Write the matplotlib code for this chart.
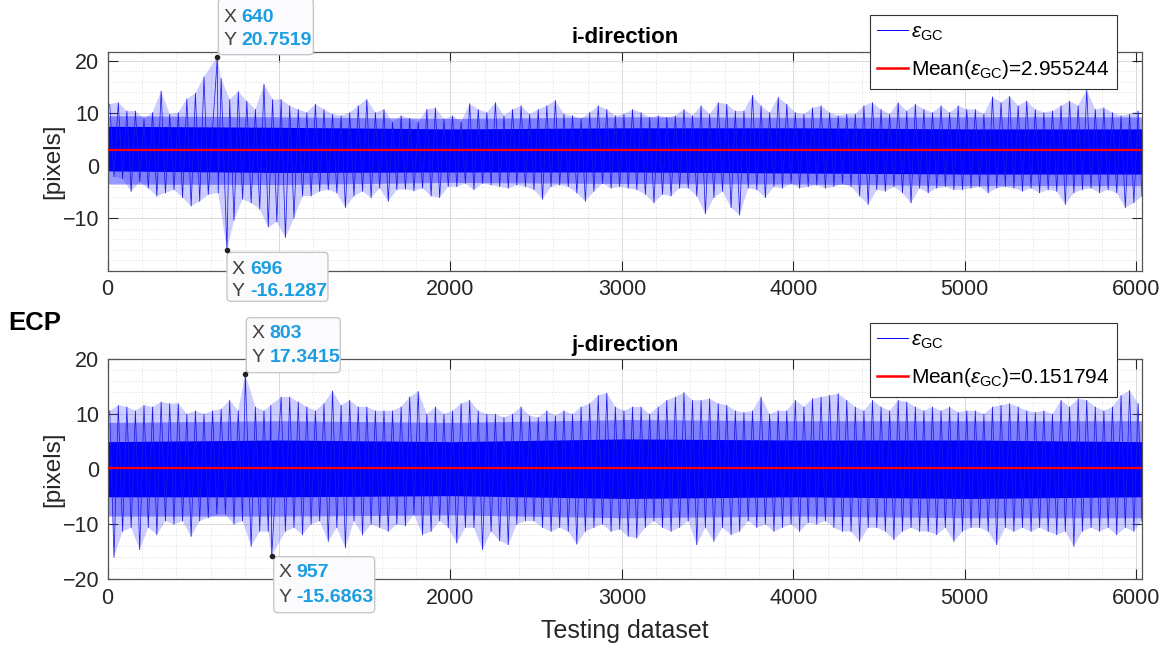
import numpy as np
import matplotlib
matplotlib.use('Agg')
import matplotlib.pyplot as plt
from matplotlib.patches import FancyBboxPatch
from matplotlib.transforms import ScaledTranslation
from matplotlib.lines import Line2D

plt.rcParams['font.family'] = ['Liberation Sans', 'DejaVu Sans']
plt.rcParams['mathtext.fontset'] = 'custom'
plt.rcParams['mathtext.rm'] = 'Liberation Sans'
plt.rcParams['mathtext.it'] = 'Liberation Sans:italic'

n_samples = 6035
bin_size = 50

# per-bin extremes of the error signal (50 samples per bin), i-direction
i_hi = [11.7, 12.0, 10.4, 10.4, 8.9, 10.1, 14.2, 9.8, 10.1, 12.7,
        13.8, 16.9, 20.7519, 16.6, 12.6, 14.1, 12.3, 10.7, 15.5, 12.6,
        12.6, 11.4, 10.7, 10.1, 11.7, 10.7, 9.8, 9.5, 10.1, 11.4,
        12.6, 10.1, 10.7, 8.3, 9.5, 9.0, 8.3, 10.7, 11.0, 8.9,
        9.5, 8.3, 11.8, 10.7, 10.1, 12.0, 9.5, 10.7, 11.4, 9.8,
        10.7, 11.4, 12.4, 9.8, 9.5, 8.9, 10.1, 11.4, 10.7, 9.5,
        9.8, 10.7, 10.1, 9.2, 9.5, 9.2, 9.5, 10.7, 9.5, 11.4,
        9.8, 12.0, 11.7, 10.4, 10.4, 13.4, 11.4, 10.1, 13.0, 11.7,
        10.1, 9.8, 11.0, 11.4, 10.1, 9.5, 9.8, 9.8, 11.4, 12.0,
        10.7, 9.8, 12.0, 10.4, 11.7, 10.7, 10.1, 11.4, 10.1, 11.4,
        10.7, 10.7, 9.8, 13.1, 12.0, 13.2, 11.4, 12.3, 10.7, 10.1,
        10.4, 11.4, 12.3, 11.4, 14.4, 10.7, 11.0, 10.1, 9.5, 9.8,
        10.4]
i_lo = [-2.1, -2.5, -4.9, -3.1, -4.3, -5.8, -5.2, -4.6, -6.1, -7.7,
        -6.8, -5.5, -5.2, -16.1287, -10.4, -6.4, -7.1, -8.3, -11.7, -10.7,
        -13.7, -10.0, -5.8, -5.8, -4.9, -4.6, -5.2, -8.0, -5.8, -4.9,
        -6.1, -4.3, -6.8, -4.6, -4.5, -4.8, -4.3, -5.8, -6.1, -4.0,
        -4.0, -3.4, -4.6, -3.4, -3.7, -4.0, -4.3, -3.7, -4.0, -4.6,
        -6.4, -4.0, -3.7, -4.0, -5.2, -6.8, -4.9, -3.4, -4.3, -4.0,
        -4.3, -4.6, -5.5, -7.1, -5.5, -5.8, -4.3, -4.3, -5.8, -9.2,
        -6.1, -4.9, -8.0, -9.4, -4.3, -4.6, -6.1, -4.0, -4.3, -3.4,
        -4.3, -4.0, -3.7, -4.3, -4.0, -3.4, -4.0, -5.8, -7.4, -4.6,
        -4.9, -4.0, -5.2, -7.1, -4.3, -5.2, -4.3, -4.0, -4.6, -4.6,
        -4.3, -4.0, -5.2, -4.3, -4.0, -4.3, -4.9, -4.3, -5.2, -4.6,
        -4.9, -7.4, -5.2, -4.6, -4.3, -5.2, -4.6, -5.2, -8.0, -7.1,
        -5.8]
# solid part and medium-density part of the band, every 1000 samples
i_core_hi = [7.5, 7.3, 7.0, 7.2, 7.2, 7.0, 7.0]
i_core_lo = [-1.0, -1.3, -1.2, -1.2, -1.4, -1.6, -1.6]
i_band_hi = [9.5, 9.3, 9.0, 9.3, 9.2, 9.3, 9.3]
i_band_lo = [-3.5, -3.6, -3.2, -3.4, -3.5, -3.8, -3.8]
i_mean = 2.955244
i_tips = [(640, 20.7519), (696, -16.1287)]

# j-direction
j_hi = [10.6, 11.6, 11.3, 10.6, 11.6, 11.3, 12.2, 11.9, 11.9, 10.0,
        10.6, 10.0, 10.6, 10.9, 12.5, 10.6, 17.3415, 11.3, 10.6, 11.6,
        13.1, 13.1, 12.2, 11.3, 10.6, 11.9, 14.2, 11.6, 12.5, 11.3,
        11.3, 10.6, 10.6, 10.6, 11.3, 13.1, 14.1, 10.0, 11.3, 10.0,
        10.6, 11.9, 12.5, 10.6, 10.0, 10.0, 9.4, 10.0, 11.3, 9.7,
        9.4, 10.6, 9.7, 10.6, 10.0, 11.3, 11.9, 13.4, 13.8, 11.3,
        10.6, 11.3, 11.3, 10.0, 11.3, 12.5, 13.1, 13.9, 12.5, 12.5,
        12.8, 11.9, 11.6, 10.6, 10.3, 10.6, 13.1, 10.0, 10.6, 10.6,
        12.5, 11.3, 12.8, 13.1, 13.4, 13.7, 12.5, 11.3, 10.6, 12.5,
        11.3, 10.6, 12.5, 12.2, 11.3, 10.6, 11.3, 10.6, 11.3, 10.3,
        10.6, 10.6, 10.0, 11.3, 11.6, 11.9, 11.3, 10.6, 10.3, 10.6,
        10.0, 12.5, 11.3, 12.8, 12.5, 11.3, 10.6, 11.3, 13.4, 14.3,
        11.9]
j_lo = [-16.0, -11.3, -10.6, -14.6, -10.6, -11.9, -9.4, -10.0, -9.4, -12.2,
        -9.4, -8.8, -8.2, -8.2, -10.0, -9.4, -14.0, -11.3, -11.3, -15.6863,
        -11.3, -10.6, -11.9, -10.0, -9.4, -13.1, -10.6, -14.3, -9.4, -11.9,
        -10.0, -10.6, -11.3, -10.0, -10.3, -8.2, -11.9, -11.3, -9.4, -10.6,
        -13.4, -10.6, -10.6, -14.6, -11.3, -13.0, -13.7, -10.0, -9.4, -9.4,
        -10.6, -11.3, -10.6, -11.3, -13.6, -11.3, -10.6, -10.0, -11.3, -10.9,
        -12.2, -12.5, -10.6, -9.4, -10.6, -11.3, -10.6, -9.4, -13.7, -10.6,
        -13.1, -10.6, -11.9, -11.3, -9.4, -10.6, -10.0, -11.3, -10.6, -10.0,
        -11.3, -9.7, -10.0, -9.4, -10.6, -11.3, -11.3, -13.1, -10.6, -10.6,
        -11.3, -12.8, -11.3, -10.6, -11.3, -11.3, -11.9, -10.6, -13.1, -11.3,
        -10.6, -10.6, -11.3, -13.7, -10.6, -11.3, -10.6, -11.3, -10.6, -11.3,
        -11.9, -11.3, -14.0, -11.3, -10.6, -11.3, -10.6, -11.9, -10.6, -11.3,
        -9.4]
j_core_hi = [5.0, 5.3, 5.0, 5.5, 5.3, 5.3, 5.0]
j_core_lo = [-5.0, -5.0, -4.8, -5.3, -5.0, -5.3, -5.0]
j_band_hi = [8.5, 8.8, 8.5, 9.0, 8.8, 8.8, 8.8]
j_band_lo = [-8.5, -8.5, -8.3, -8.8, -8.5, -8.8, -8.8]
j_mean = 0.151794
j_tips = [(803, 17.3415), (957, -15.6863)]

x_ticks = [0, 1000, 2000, 3000, 4000, 5000, 6000]
x_ticklabels = ['0', '', '2000', '3000', '4000', '5000', '6000']

fig = plt.figure(figsize=(11.69, 6.57), dpi=100)
ax1 = fig.add_axes([0.0921, 0.588, 0.8849, 0.3333])
ax2 = fig.add_axes([0.0921, 0.1180, 0.8849, 0.3356])


def extreme_positions(hi, tips):
    # sample index of each bin's maximum and minimum; marked tips keep their own index
    b = np.arange(len(hi))
    x_hi = np.minimum(b * bin_size + 12, n_samples - 2).astype(float)
    x_lo = np.minimum(b * bin_size + 37, n_samples - 1).astype(float)
    for tx, ty in tips:
        k = tx // bin_size
        if ty > 0:
            x_hi[k] = tx
            if x_lo[k] <= tx:
                x_lo[k] = tx + 5
        else:
            x_lo[k] = tx
            if x_hi[k] >= tx:
                x_hi[k] = tx - 5
    return x_hi, x_lo


def datatip(ax, x, y, box, rows):
    trans = fig.dpi_scale_trans + ScaledTranslation(x, y, ax.transData)
    x0, y0, w, h = box
    ax.add_artist(FancyBboxPatch((x0, y0), w, h,
                                 boxstyle='round,pad=0,rounding_size=0.04',
                                 transform=trans, fc='#fbfbfd', ec='#c8c8cc',
                                 lw=1.0, zorder=10, clip_on=False))
    ax.plot([x], [y], 'o', ms=3, color='#222222', zorder=11, clip_on=False)
    for lx, ly, name, val in rows:
        ax.text(lx, ly, name, transform=trans, fontsize=14, color='#404040',
                va='center', ha='left', zorder=12)
        ax.text(lx + 0.18, ly, val, transform=trans, fontsize=14,
                color='#1b9de2', fontweight='bold', va='center', ha='left',
                zorder=12)


panels = [
    (ax1, i_hi, i_lo, i_core_hi, i_core_lo, i_band_hi, i_band_lo, i_mean,
     i_tips, 'i-direction', (-18.9, 21.7), [-10, 0, 10, 20], 1.0 - 15 / 657),
    (ax2, j_hi, j_lo, j_core_hi, j_core_lo, j_band_hi, j_band_lo, j_mean,
     j_tips, 'j-direction', (-20, 20), [-20, -10, 0, 10, 20], 1.0 - 323 / 657),
]

for (ax, hi, lo, core_hi, core_lo, band_hi, band_lo, mean, tips, title,
     ylim, yticks, leg_top) in panels:
    x_hi, x_lo = extreme_positions(hi, tips)
    hi = np.asarray(hi)
    lo = np.asarray(lo)

    # faint fill inside the envelope of the extremes
    ax.fill(np.r_[x_hi, x_lo[::-1]], np.r_[hi, lo[::-1]],
            color=(0.3, 0.3, 1.0), alpha=0.28, lw=0, zorder=2)
    band_x = np.linspace(0, n_samples, len(core_hi))
    ax.fill_between(band_x, band_lo, band_hi, color=(0.2, 0.2, 1.0),
                    alpha=0.5, lw=0, zorder=2)
    ax.fill_between(band_x, core_lo, core_hi, color=(0, 0, 1), lw=0, zorder=2)

    # the trace itself: max then min of every bin
    x = np.empty(2 * len(hi))
    y = np.empty(2 * len(hi))
    x[0::2], x[1::2] = x_hi, x_lo
    y[0::2], y[1::2] = hi, lo
    ax.plot(x, y, color=(0.1, 0.1, 0.9), lw=0.55, zorder=3)
    ax.plot([0, n_samples], [mean, mean], color=(1, 0, 0), lw=1.6, zorder=4)

    ax.set_xlim(0, n_samples)
    ax.set_ylim(*ylim)
    ax.set_xticks(x_ticks)
    ax.set_xticklabels(x_ticklabels)
    ax.set_yticks(yticks)
    ax.set_xticks(np.arange(0, n_samples, 200), minor=True)
    ax.set_yticks(np.arange(-20, 22, 2), minor=True)
    ax.grid(True, which='major', color='#d9d9d9', lw=0.7)
    ax.grid(True, which='minor', color='#e4e4e4', lw=0.6, ls=(0, (2, 2)))
    ax.set_axisbelow(True)
    ax.tick_params(which='major', direction='in', length=7, width=0.8,
                   top=True, right=True, labelsize=15.5, colors='#262626',
                   pad=6)
    ax.tick_params(which='minor', length=0)
    for s in ax.spines.values():
        s.set_color('#555555')
        s.set_linewidth(0.9)

    ax.set_title(title, fontsize=16, fontweight='bold', pad=6)
    ax.set_ylabel('[pixels]', fontsize=17.5, color='#262626')
    ax.yaxis.set_label_coords(-0.042, 0.5)

    handles = [Line2D([], [], color=(0, 0, 1), lw=0.7),
               Line2D([], [], color=(1, 0, 0), lw=1.8)]
    labels = [r'$\epsilon_{\mathrm{GC}}$',
              r'Mean($\epsilon_{\mathrm{GC}}$)=%.6f' % mean]
    leg = ax.legend(handles, labels, loc='upper right',
                    bbox_to_anchor=(1117 / 1169, leg_top),
                    bbox_transform=fig.transFigure, fontsize=15,
                    fancybox=False, framealpha=1, edgecolor='#333333',
                    handlelength=1.5, handletextpad=0.15, borderpad=0.35,
                    labelspacing=0.75, borderaxespad=0)
    leg.get_frame().set_linewidth(0.8)
    leg.set_zorder(20)

# data tips: (sample, value), box in inches relative to the marked point
datatip(ax1, 640, 20.7519, (0.01, 0.02, 0.95, 0.56),
        [(0.06, 0.39, 'X', '640'), (0.06, 0.16, 'Y', '20.7519')])
datatip(ax1, 696, -16.1287, (0.0, -0.51, 1.01, 0.49),
        [(0.05, -0.19, 'X', '696'), (0.05, -0.41, 'Y', '-16.1287')])
datatip(ax2, 803, 17.3415, (0.01, 0.01, 0.94, 0.55),
        [(0.06, 0.40, 'X', '803'), (0.06, 0.16, 'Y', '17.3415')])
datatip(ax2, 957, -15.6863, (0.02, -0.57, 1.01, 0.56),
        [(0.07, -0.17, 'X', '957'), (0.07, -0.42, 'Y', '-15.6863')])

ax2.set_xlabel('Testing dataset', fontsize=18, color='#262626')
ax2.xaxis.set_label_coords(0.5, -0.18)
fig.text(8 / 1169, 1 - 323 / 657, 'ECP', fontsize=18.5, fontweight='bold',
         va='center', ha='left')

fig.savefig('out.png', dpi=100)
